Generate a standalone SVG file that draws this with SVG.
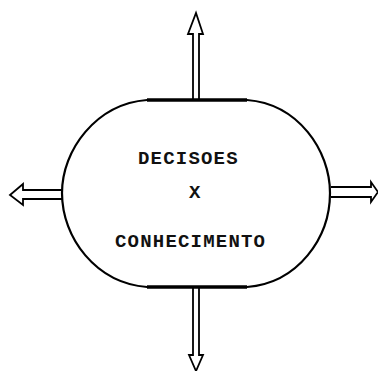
<svg xmlns="http://www.w3.org/2000/svg" width="378" height="371" viewBox="0 0 378 371">
<style>
.outline{fill:#fff;stroke:#000;stroke-width:2.2}
.flat{stroke:#000;stroke-width:3.5}
.arrow{fill:none;stroke:#000;stroke-width:1.8;stroke-linejoin:miter}
.lbl{font-family:"Liberation Mono","DejaVu Sans Mono",monospace;font-size:19px;font-weight:bold;letter-spacing:1.2px;fill:#111}
</style>
<rect width="378" height="371" fill="#fff"/>
<g id="connectors">
<path class="arrow" d="M193,100 L193,34 L188,34 L196,13 L203,34 L199,34 L199,100"/>
<path class="arrow" d="M62,190 L23,190 L23,184 L10,195 L23,205 L23,199 L62,199"/>
<path class="arrow" d="M331,187 L371,187 L371,182 L378,192 L371,202 L371,197 L331,197"/>
<path class="arrow" d="M193,287 L193,355 L189,355 L196,371 L203,355 L199,355 L199,287"/>
</g>
<g id="node-decisoes">
<path class="outline" d="M147,100 L247,100 C298,104 330,150 330,193 C330,238 298,283 247,287 L147,287 C96,283 62,238 62,193 C62,150 96,104 147,100 Z"/>
<line class="flat" x1="147" y1="100" x2="247" y2="100"/>
<line class="flat" x1="147" y1="287" x2="247" y2="287"/>
<text class="lbl" x="138" y="164">DECISOES</text>
<text class="lbl" x="189" y="198">X</text>
<text class="lbl" x="115" y="247">CONHECIMENTO</text>
</g>
</svg>
